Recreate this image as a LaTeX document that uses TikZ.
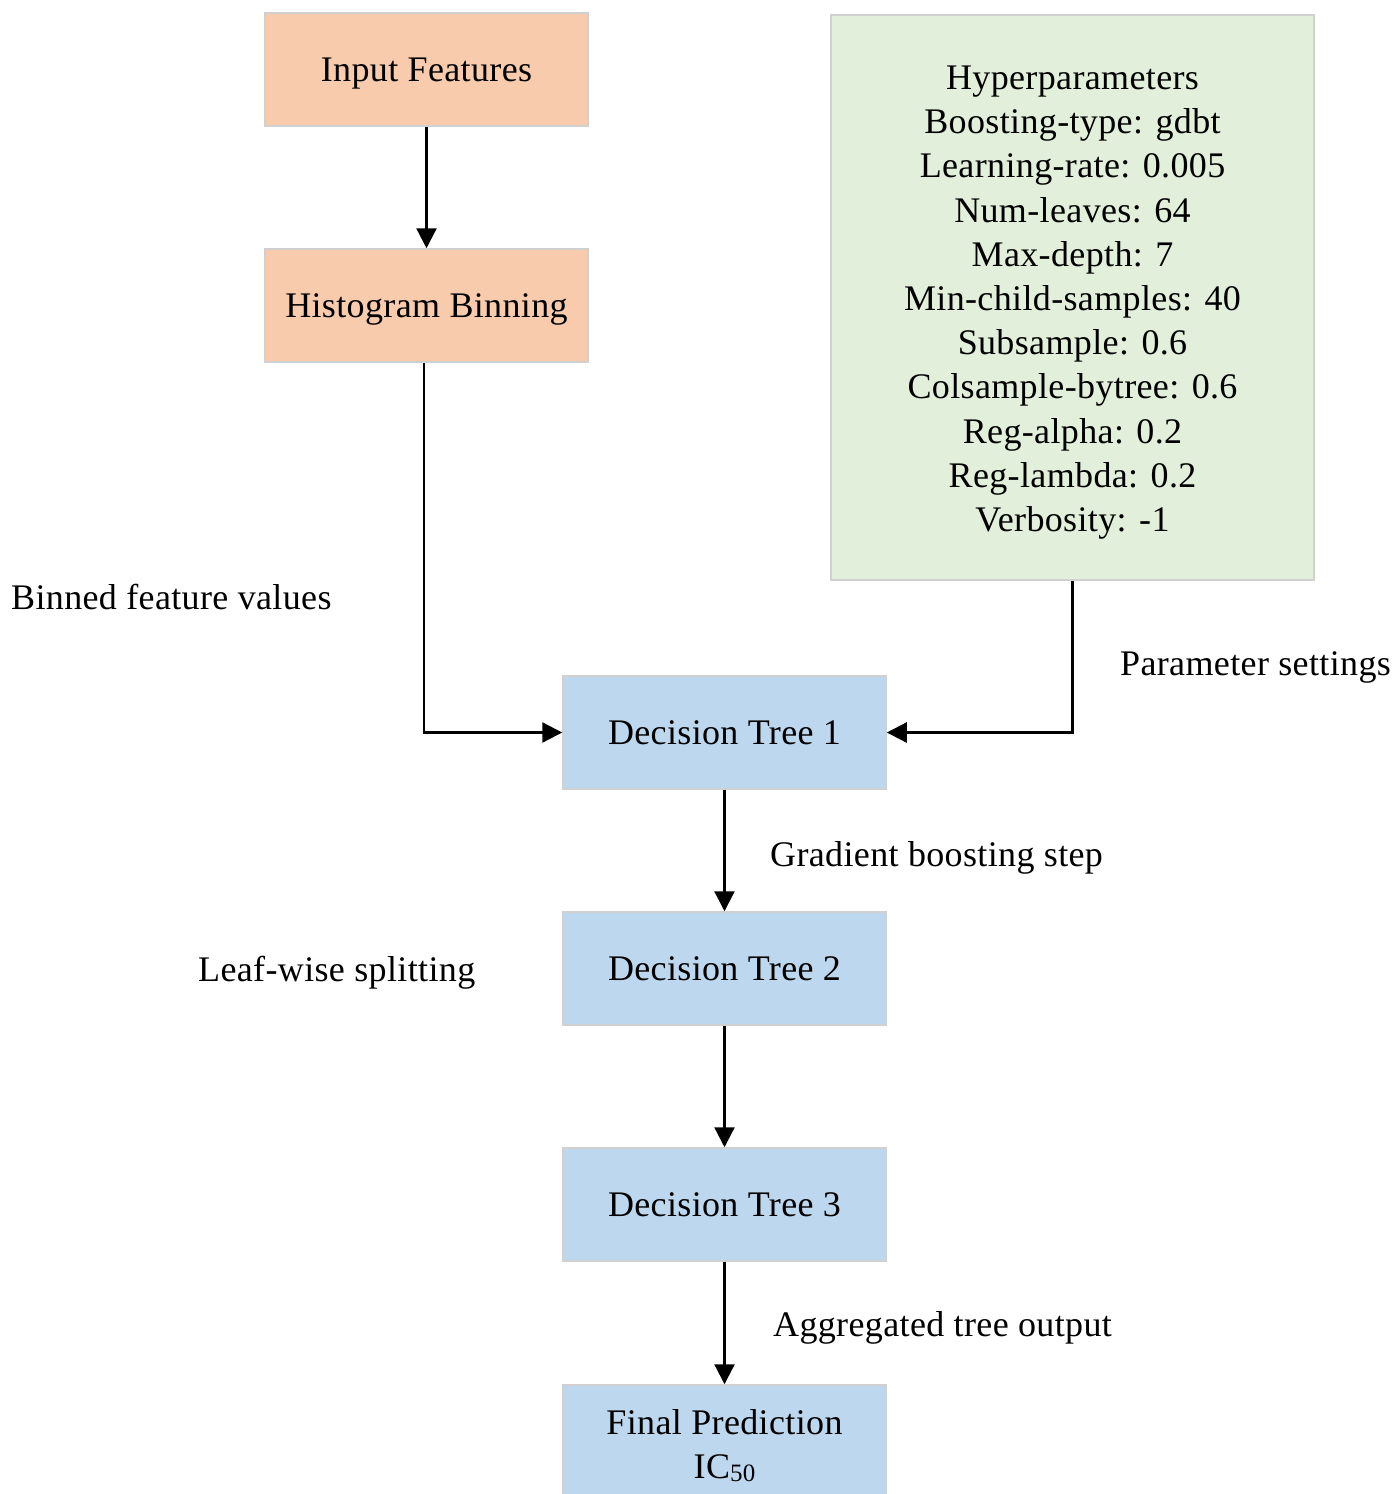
\documentclass[tikz,border=0pt]{standalone}
\usepackage{fontspec}
\setmainfont[LetterSpace=1.0]{Liberation Serif}
\usetikzlibrary{arrows.meta}
\definecolor{orangefill}{HTML}{F8CBAD}
\definecolor{greenfill}{HTML}{E2EFDA}
\definecolor{bluefill}{HTML}{BDD7EE}
\definecolor{boxline}{HTML}{D0D0D0}
\begin{document}
\begin{tikzpicture}[x=1pt,y=-1pt,
  font=\fontsize{36}{44.2}\selectfont,
  boxbase/.style={draw=boxline, line width=1.5pt, minimum width=323pt, minimum height=113pt, inner sep=0pt, align=center},
  flowbox/.style={boxbase, text height=24pt, text depth=0pt},
  lbl/.style={anchor=base west, inner sep=0pt},
  conn/.style={line width=2.3pt, -{Triangle[length=20pt,width=20pt]}}
]
\useasboundingbox (0,0) rectangle (1395,1494);

\node[flowbox, fill=orangefill] (inp) at (426.5,69.5) {Input Features};
\node[flowbox, fill=orangefill] (hist) at (426.5,305.5) {Histogram Binning};
\node[boxbase, fill=greenfill, minimum width=483pt, minimum height=565pt] (hyp) at (1072.5,297.5) {};
\node[align=center, inner sep=0pt] (hyptext) at (1072.5,302.5)
  {Hyperparameters\\Boosting-type: gdbt\\Learning-rate: 0.005\\Num-leaves: 64\\Max-depth: 7\\Min-child-samples: 40\\Subsample: 0.6\\Colsample-bytree: 0.6\\Reg-alpha: 0.2\\Reg-lambda: 0.2\\Verbosity: -1};
\node[flowbox, fill=bluefill] (t1) at (724.5,732.5) {Decision Tree 1};
\node[flowbox, fill=bluefill] (t2) at (724.5,968.5) {Decision Tree 2};
\node[flowbox, fill=bluefill] (t3) at (724.5,1204.5) {Decision Tree 3};
\node[boxbase, fill=bluefill] (fin) at (724.5,1441.5) {};
\node[align=center, inner sep=0pt] (fintext) at (724.5,1445.5) {Final Prediction\\IC{\fontsize{25}{25}\selectfont\raisebox{-0.12em}{50}}};

\node[lbl] (l1) at (11,609) {Binned feature values};
\node[lbl] (l2) at (1120,675) {Parameter settings};
\node[lbl] (l3) at (770,866) {Gradient boosting step};
\node[lbl] (l4) at (198,981) {Leaf-wise splitting};
\node[lbl] (l5) at (773,1336) {Aggregated tree output};

\draw[conn] (inp) -- (hist);
\draw[conn] ([xshift=-2.5pt]hist.south) |- (t1.west);
\draw[conn] (hyp.south) |- (t1.east);
\draw[conn] (t1) -- (t2);
\draw[conn] (t2) -- (t3);
\draw[conn] (t3) -- (fin);
\end{tikzpicture}
\end{document}
